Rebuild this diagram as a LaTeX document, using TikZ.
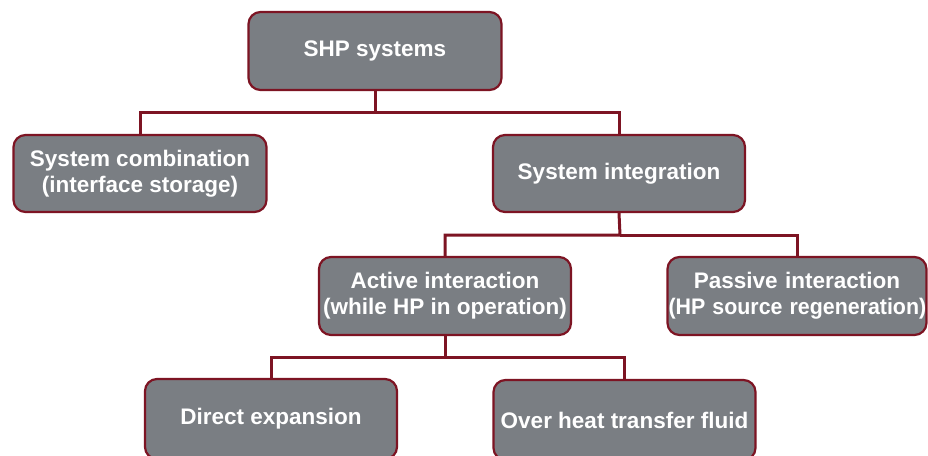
\documentclass[tikz,border=0pt]{standalone}
\usepackage{graphicx}
\usepackage{fontspec}
\setmainfont{Liberation Sans}
\definecolor{boxfill}{RGB}{122,126,131}
\definecolor{boxline}{RGB}{125,20,35}
\begin{document}
\begin{tikzpicture}[x=1pt,y=-1pt,
  box/.style={draw=boxline,line width=2.2pt,fill=boxfill,rounded corners=12pt,
    text=white,font=\fontsize{22.5}{26}\selectfont\bfseries,align=center,inner sep=0pt},
  link/.style={draw=boxline,line width=3pt}]
\clip (0,0) rectangle (928,455);
\fill[white] (0,0) rectangle (928,455);
\node[box,minimum width=253pt,minimum height=78pt] (shp) at (375,51) {SHP systems};
\node[box,minimum width=253pt,minimum height=77pt] (comb) at (140,173.5) {System combination\\(interface storage)};
\node[box,minimum width=252pt,minimum height=77pt] (integ) at (619,173.5) {System integration};
\node[box,minimum width=252pt,minimum height=78pt] (active) at (445,296) {Active interaction\\(while HP in operation)};
\node[box,minimum width=259pt,minimum height=78pt,text width=257pt] (passive) at (797,296) {Passive interaction\\\scalebox{0.95}[1]{(HP source regeneration)}};
\node[box,minimum width=252pt,minimum height=80pt] (direct) at (271,419) {Direct expansion};
\node[box,minimum width=262pt,minimum height=80pt] (over) at (624.5,420) {Over heat transfer fluid};
\coordinate (j1) at (375,112);
\coordinate (j2) at (620,235);
\coordinate (j3) at (445,357.5);
\draw[link] (shp.south) -- (j1) -| (comb.north);
\draw[link] (j1) -| (integ.north);
\draw[link] (integ.south) -- (j2) -| (active.north);
\draw[link] (j2) -| (passive.north);
\draw[link] (active.south) -- (j3) -| (direct.north);
\draw[link] (j3) -| (over.north);
\end{tikzpicture}
\end{document}
